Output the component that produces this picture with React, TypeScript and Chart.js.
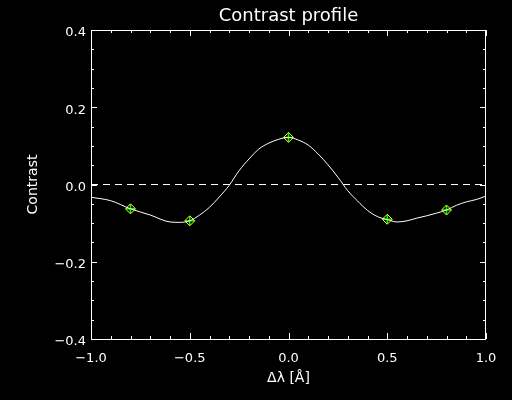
import React, { useEffect, useRef } from "react";
import { Chart, registerables } from "chart.js";

Chart.register(...registerables);

const curveX = [-1.0, -0.9, -0.8, -0.7, -0.6, -0.55, -0.5, -0.45, -0.4, -0.35, -0.3, -0.25, -0.2, -0.15, -0.1, -0.05, 0.0, 0.05, 0.1, 0.15, 0.2, 0.25, 0.3, 0.35, 0.4, 0.45, 0.5, 0.55, 0.6, 0.65, 0.7, 0.75, 0.8, 0.85, 0.9, 0.95, 1.0];
const curveY = [-0.033, -0.042, -0.063, -0.079, -0.097, -0.098, -0.094, -0.079, -0.059, -0.032, -0.002, 0.036, 0.066, 0.092, 0.107, 0.117, 0.122, 0.115, 0.102, 0.079, 0.051, 0.019, -0.016, -0.043, -0.067, -0.083, -0.091, -0.097, -0.094, -0.087, -0.081, -0.074, -0.066, -0.054, -0.045, -0.039, -0.030];
const markerX = [-0.8, -0.5, 0.0, 0.5, 0.8];
const markerY = [-0.063, -0.094, 0.122, -0.090, -0.066];
const zeroLineX = [-1.0, 1.0];
const zeroLineY = [0, 0];
const titleText = "Contrast profile";
const xTitle = "Δλ [Å]";
const yTitle = "Contrast";

const FONT = "'DejaVu Sans', sans-serif";

const fmt = (v: number) => {
  const s = Math.abs(v).toFixed(1);
  return v < -1e-9 ? "\u2212" + s : s;
};

const framePlugin = {
  id: "framePlugin",
  beforeDraw(chart: any) {
    const ctx = chart.ctx;
    ctx.save();
    ctx.fillStyle = "#000";
    ctx.fillRect(0, 0, chart.width, chart.height);
    ctx.restore();
  },
  afterDraw(chart: any) {
    const ctx = chart.ctx;
    const a = chart.chartArea;
    const xs = chart.scales.x;
    const ys = chart.scales.y;
    ctx.save();
    ctx.strokeStyle = "#fff";
    ctx.lineWidth = 1;
    ctx.strokeRect(Math.round(a.left) + 0.5, Math.round(a.top) + 0.5, Math.round(a.right - a.left) - 1, Math.round(a.bottom - a.top));
    ctx.beginPath();
    xs.ticks.forEach((t: any) => {
      const v = t.value;
      const major = Math.abs(v * 2 - Math.round(v * 2)) < 1e-6;
      const len = major ? 6 : 3;
      const px = Math.round(xs.getPixelForValue(v)) + 0.5;
      ctx.moveTo(px, a.bottom);
      ctx.lineTo(px, a.bottom - len);
      ctx.moveTo(px, a.top);
      ctx.lineTo(px, a.top + len);
    });
    ys.ticks.forEach((t: any) => {
      const v = t.value;
      const major = Math.abs(v * 5 - Math.round(v * 5)) < 1e-6;
      const len = major ? 6 : 3;
      const py = Math.round(ys.getPixelForValue(v)) + 0.5;
      ctx.moveTo(a.left, py);
      ctx.lineTo(a.left + len, py);
      ctx.moveTo(a.right, py);
      ctx.lineTo(a.right - len, py);
    });
    ctx.stroke();

    ctx.fillStyle = "#fff";
    ctx.font = `18px ${FONT}`;
    ctx.textAlign = "center";
    ctx.textBaseline = "alphabetic";
    ctx.fillText(titleText, (a.left + a.right) / 2, 21);

    ctx.font = `14px ${FONT}`;
    ctx.fillText(xTitle, (a.left + a.right) / 2, 382);

    ctx.translate(37, (a.top + a.bottom) / 2);
    ctx.rotate(-Math.PI / 2);
    ctx.fillText(yTitle, 0, 0);
    ctx.restore();
  },
};

export default function App() {
  const ref = useRef<HTMLCanvasElement | null>(null);
  useEffect(() => {
    if (!ref.current) return;
    const chart = new Chart(ref.current, {
      type: "scatter",
      data: {
        datasets: [
          {
            data: zeroLineX.map((x, i) => ({ x, y: zeroLineY[i] })),
            showLine: true,
            borderColor: "#fff",
            borderWidth: 1,
            borderDash: [7, 5],
            pointRadius: 0,
          },
          {
            data: curveX.map((x, i) => ({ x, y: curveY[i] })),
            showLine: true,
            borderColor: "#fff",
            borderWidth: 1,
            cubicInterpolationMode: "monotone",
            pointRadius: 0,
          },
          {
            data: markerX.map((x, i) => ({ x, y: markerY[i] })),
            showLine: false,
            pointStyle: "rectRot",
            pointRadius: 5,
            borderColor: "#ffff00",
            backgroundColor: "rgba(0,0,0,0)",
            borderWidth: 1,
          },
          {
            data: markerX.map((x, i) => ({ x, y: markerY[i] })),
            showLine: false,
            pointStyle: "cross",
            pointRadius: 4.5,
            borderColor: "#00ff00",
            borderWidth: 1.5,
          },
        ],
      },
      options: {
        responsive: false,
        animation: false,
        devicePixelRatio: 1,
        layout: { padding: { left: 0, right: 26, top: 30, bottom: 0 } },
        plugins: { legend: { display: false }, tooltip: { enabled: false }, title: { display: false } },
        scales: {
          x: {
            type: "linear",
            min: -1,
            max: 1,
            grid: { display: false, drawTicks: false },
            border: { display: false },
            ticks: {
              stepSize: 0.1,
              autoSkip: false,
              maxRotation: 0,
              padding: 12,
              color: "#fff",
              font: { family: FONT, size: 13 },
              callback: (v: any) => {
                const n = Number(v);
                return Math.abs(n * 2 - Math.round(n * 2)) < 1e-6 ? fmt(n) : "";
              },
            },
            afterFit: (s: any) => {
              s.height = 61;
            },
          },
          y: {
            type: "linear",
            min: -0.4,
            max: 0.4,
            grid: { display: false, drawTicks: false },
            border: { display: false },
            ticks: {
              stepSize: 0.05,
              autoSkip: false,
              padding: 5,
              labelOffset: 3,
              color: "#fff",
              font: { family: FONT, size: 13 },
              callback: (v: any) => {
                const n = Number(v);
                return Math.abs(n * 5 - Math.round(n * 5)) < 1e-6 ? fmt(n) : "";
              },
            },
            afterFit: (s: any) => {
              s.width = 91;
            },
          },
        },
      },
      plugins: [framePlugin],
    } as any);
    return () => chart.destroy();
  }, []);
  return (
    <div style={{ position: "absolute", left: 0, top: 0, width: 512, height: 400, background: "#000" }}>
      <canvas ref={ref} width={512} height={400} style={{ display: "block" }} />
    </div>
  );
}
